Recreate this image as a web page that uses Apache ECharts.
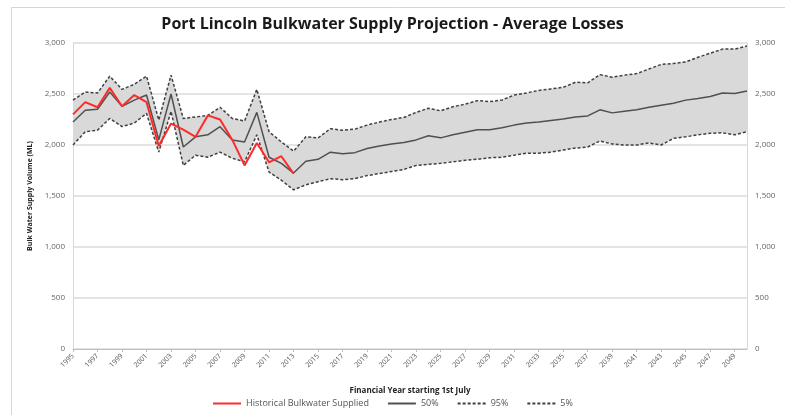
<!DOCTYPE html>
<html>
<head>
    <meta charset="utf-8">
    <title>Port Lincoln Bulkwater Supply Projection</title>
    <script src="https://cdn.jsdelivr.net/npm/echarts@6/dist/echarts.min.js"></script>
    <style>
        html, body { margin: 0; padding: 0; background: #fff; }
        #main { width: 785px; height: 415px; }
    </style>
</head>
<body>
<div id="main"></div>
<script type="text/javascript">
    // financial years 1995 .. 2050
    var years = [];
    for (var y = 1995; y <= 2050; y++) {
        years.push(String(y));
    }

    // historical supply (ML), 1995 .. 2013
    var historical = [2300, 2420, 2370, 2560, 2380, 2490, 2420, 1990, 2210, 2150,
        2080, 2290, 2250, 2050, 1800, 2020, 1830, 1890, 1720];

    var p50 = [2225, 2340, 2350, 2520, 2380, 2440, 2490, 2050, 2500, 1980,
        2080, 2100, 2180, 2050, 2030, 2320, 1880, 1820, 1725, 1840,
        1860, 1930, 1915, 1925, 1965, 1990, 2010, 2025, 2050, 2090,
        2070, 2100, 2125, 2150, 2150, 2170, 2195, 2215, 2225, 2240,
        2255, 2275, 2285, 2345, 2315, 2330, 2345, 2370, 2390, 2410,
        2440, 2455, 2475, 2510, 2505, 2530];

    var p95 = [2440, 2520, 2510, 2675, 2545, 2595, 2675, 2245, 2685, 2260,
        2275, 2290, 2370, 2260, 2235, 2545, 2130, 2030, 1940, 2080,
        2070, 2160, 2145, 2155, 2195, 2225, 2250, 2270, 2320, 2360,
        2335, 2375, 2400, 2435, 2425, 2440, 2490, 2510, 2535, 2550,
        2565, 2615, 2610, 2690, 2665, 2685, 2700, 2745, 2790, 2800,
        2815, 2860, 2900, 2940, 2940, 2970];

    var p5 = [2000, 2130, 2145, 2260, 2180, 2215, 2310, 1930, 2330, 1800,
        1900, 1880, 1930, 1870, 1835, 2100, 1735, 1655, 1560, 1610,
        1640, 1670, 1660, 1670, 1700, 1720, 1740, 1760, 1800, 1810,
        1820, 1835, 1850, 1860, 1875, 1880, 1900, 1920, 1920, 1930,
        1950, 1970, 1980, 2040, 2010, 2000, 2000, 2020, 2000, 2065,
        2080, 2100, 2115, 2120, 2100, 2130];

    var yTicks = [0, 500, 1000, 1500, 2000, 2500, 3000];

    // band height between the 5% and 95% lines
    var band = [];
    for (var i = 0; i < p95.length; i++) {
        band.push(p95[i] - p5[i]);
    }

    var labelFont = 'Open Sans';

    function fmt(v) {
        return Number(v).toLocaleString('en-US');
    }

    function valueAxis(pos) {
        return {
            type: 'value',
            position: pos,
            min: yTicks[0],
            max: yTicks[yTicks.length - 1],
            interval: 500,
            axisLine: {show: true, lineStyle: {color: '#d9d9d9', width: 1}},
            axisTick: {show: false},
            axisLabel: {
                color: '#666666',
                fontSize: 8,
                fontFamily: labelFont,
                margin: 8,
                formatter: fmt
            },
            splitLine: {show: pos === 'left', lineStyle: {color: '#e4e4e4', width: 2}}
        };
    }

    var myChart = echarts.init(document.getElementById('main'));

    // legend shows only the line, no marker
    var noMarker = {opacity: 0};

    var option = {
        animation: false,
        backgroundColor: '#ffffff',
        graphic: [{
            type: 'rect',
            shape: {x: 11.5, y: 7.5, width: 800, height: 420},
            style: {fill: 'none', stroke: '#d6d6d6', lineWidth: 1},
            silent: true,
            z: -1
        }],
        title: {
            text: 'Port Lincoln Bulkwater Supply Projection - Average Losses',
            left: 'center',
            top: 11,
            textStyle: {
                fontFamily: labelFont,
                fontWeight: 'bold',
                fontSize: 16,
                color: '#1a1a1a'
            }
        },
        grid: {
            left: 73,
            right: 38,
            top: 43,
            bottom: 66,
            containLabel: false
        },
        legend: {
            data: [
                {name: 'Historical Bulkwater Supplied', itemStyle: noMarker},
                {name: '50%', itemStyle: noMarker},
                {name: '95%', itemStyle: noMarker},
                {name: '5%', itemStyle: noMarker}
            ],
            bottom: 2,
            left: 'center',
            itemWidth: 28,
            itemHeight: 6,
            itemGap: 18,
            selectedMode: false,
            textStyle: {fontSize: 9, color: '#555555', fontFamily: labelFont}
        },
        xAxis: {
            type: 'category',
            data: years,
            boundaryGap: false,
            name: 'Financial Year starting 1st July',
            nameLocation: 'middle',
            nameGap: 38,
            nameTextStyle: {fontSize: 8, fontWeight: 'bold', color: '#222222', fontFamily: labelFont},
            axisLine: {lineStyle: {color: '#bfbfbf', width: 1}},
            axisTick: {show: true, interval: 1, length: 3, lineStyle: {color: '#bfbfbf'}},
            axisLabel: {
                interval: 1,
                rotate: 45,
                fontSize: 7,
                color: '#555555',
                fontFamily: labelFont,
                margin: 6
            },
            splitLine: {show: false}
        },
        yAxis: [
            Object.assign(valueAxis('left'), {
                name: 'Bulk Water Supply Volume (ML)',
                nameLocation: 'middle',
                nameGap: 36,
                nameTextStyle: {fontSize: 7, fontWeight: 'bold', color: '#222222', fontFamily: labelFont}
            }),
            valueAxis('right')
        ],
        series: [
            {
                name: 'base',
                type: 'line',
                data: p5,
                stack: 'band',
                symbol: 'none',
                silent: true,
                lineStyle: {width: 0, opacity: 0},
                z: 1
            },
            {
                name: 'band',
                type: 'line',
                data: band,
                stack: 'band',
                symbol: 'none',
                silent: true,
                lineStyle: {width: 0, opacity: 0},
                areaStyle: {color: '#d9d9d9', opacity: 1},
                z: 1
            },
            {
                name: '95%',
                type: 'line',
                data: p95,
                symbol: 'none',
                color: '#3f3f3f',
                lineStyle: {color: '#3f3f3f', width: 1.5, type: [3, 2]},
                z: 3
            },
            {
                name: '5%',
                type: 'line',
                data: p5,
                symbol: 'none',
                color: '#3f3f3f',
                lineStyle: {color: '#3f3f3f', width: 1.5, type: [3, 2]},
                z: 3
            },
            {
                name: '50%',
                type: 'line',
                data: p50,
                symbol: 'none',
                color: '#505050',
                lineStyle: {color: '#505050', width: 1.5},
                z: 4
            },
            {
                name: 'Historical Bulkwater Supplied',
                type: 'line',
                data: historical,
                symbol: 'none',
                color: '#ff2a2a',
                lineStyle: {color: '#ff2a2a', width: 2},
                z: 5
            }
        ]
    };

    myChart.setOption(option);
</script>
</body>
</html>
